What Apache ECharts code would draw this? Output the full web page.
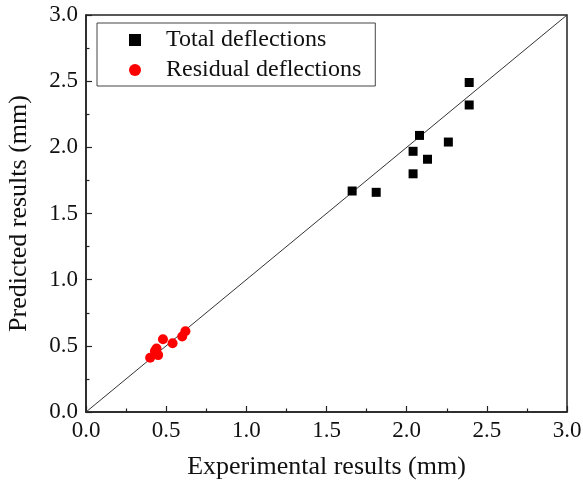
<!DOCTYPE html>
<html>
<head>
<meta charset="utf-8">
<script src="https://cdn.jsdelivr.net/npm/echarts@6/dist/echarts.min.js"></script>
<style>html,body{margin:0;padding:0;background:#fff}#c{width:583px;height:485px}</style>
</head>
<body>
<div id="c"></div>
<script>
const totalX = [1.66, 1.81, 2.08, 2.04, 2.13, 2.04, 2.26, 2.39, 2.39];
const totalY = [1.67, 1.66, 2.09, 1.97, 1.91, 1.80, 2.04, 2.49, 2.32];
const residualX = [0.40, 0.43, 0.44, 0.45, 0.48, 0.54, 0.60, 0.62];
const residualY = [0.41, 0.46, 0.48, 0.43, 0.55, 0.52, 0.57, 0.61];
const lineX = [0, 3];
const lineY = [0, 3];
const seriesNames = ['Total deflections', 'Residual deflections'];
const xTitle = 'Experimental results (mm)';
const yTitle = 'Predicted results (mm)';

const font = 'Liberation Serif, Times New Roman, serif';
const zip = (a, b) => a.map((v, i) => [v, b[i]]);

const chart = echarts.init(document.getElementById('c'));
const axisCommon = {
  type: 'value', min: 0, max: 3, interval: 0.5,
  axisLine: { show: true, lineStyle: { color: '#222', width: 1.5 } },
  axisTick: { show: true, inside: true, length: 6, lineStyle: { color: '#222', width: 1.2 } },
  minorTick: { show: true, splitNumber: 2, length: 3.5, lineStyle: { color: '#222', width: 1.2 } },
  splitLine: { show: false },
  axisLabel: { color: '#111', fontFamily: font, fontSize: 23, formatter: v => v.toFixed(1) },
  nameLocation: 'middle',
  nameTextStyle: { color: '#111', fontFamily: font, fontSize: 26 }
};
chart.setOption({
  animation: false,
  backgroundColor: '#fff',
  grid: { left: 86, top: 15, right: 16, bottom: 73, show: true, borderColor: '#222', borderWidth: 1.5,
          containLabel: false, outerBoundsMode: 'none' },
  xAxis: Object.assign({}, axisCommon, { name: xTitle, nameGap: 42, axisLabel: Object.assign({}, axisCommon.axisLabel, { margin: 7 }) }),
  yAxis: Object.assign({}, axisCommon, { name: yTitle, nameGap: 54, axisLabel: Object.assign({}, axisCommon.axisLabel, { margin: 8 }) }),
  legend: {
    left: 97, top: 23,
    orient: 'vertical', itemGap: 6, padding: [5, 14, 4, 32],
    borderColor: '#444', borderWidth: 1, backgroundColor: '#fff',
    itemWidth: 12, itemHeight: 12,
    textStyle: { color: '#111', fontFamily: font, fontSize: 24, padding: [0, 0, 0, 20] },
    data: [
      { name: seriesNames[0], icon: 'rect', itemStyle: { color: '#000' } },
      { name: seriesNames[1], icon: 'circle', itemStyle: { color: '#ff0000' } }
    ]
  },
  series: [
    { type: 'line', data: zip(lineX, lineY), symbol: 'none', silent: true,
      lineStyle: { color: '#333', width: 1 }, z: 1 },
    { name: seriesNames[0], type: 'scatter', data: zip(totalX, totalY), symbol: 'rect', symbolSize: 9,
      itemStyle: { color: '#000', opacity: 1 }, z: 3 },
    { name: seriesNames[1], type: 'scatter', data: zip(residualX, residualY), symbol: 'circle', symbolSize: 10,
      itemStyle: { color: '#ff0000', opacity: 1 }, z: 3 }
  ]
});
</script>
</body>
</html>
